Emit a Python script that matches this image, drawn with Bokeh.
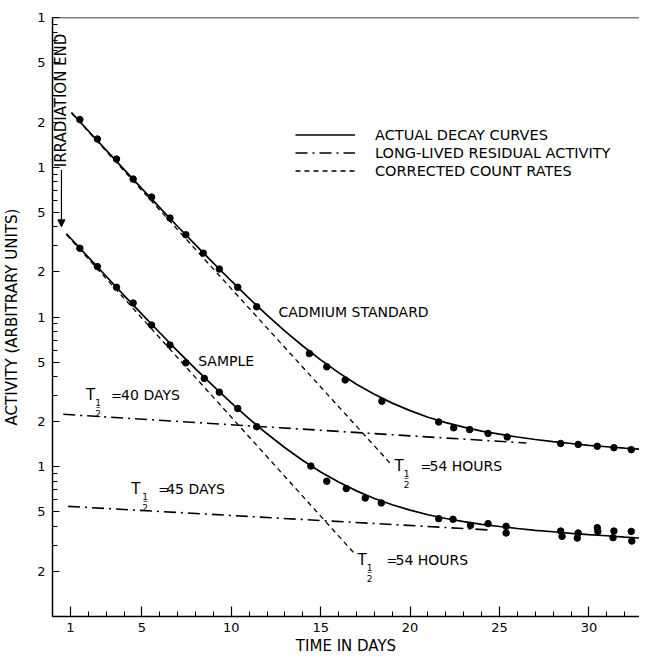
from bokeh.plotting import figure
from bokeh.models import (Range1d, FixedTicker, Label, Legend, LegendItem, Span,
                          Arrow, NormalHead)
from bokeh.embed import file_html
from bokeh.resources import INLINE

FONT = "DejaVu Sans"

# ---------------- data ----------------
# Cadmium standard: measured points
std_days = [1.53, 2.51, 3.58, 4.51, 5.54, 6.57, 7.46, 8.43, 9.33, 10.36, 11.42,
            14.37, 15.34, 16.37, 18.42, 21.6, 22.44, 23.33, 24.36, 25.43,
            28.42, 29.4, 30.47, 31.4, 32.37]
std_vals = [2080, 1544, 1135, 834, 632, 458, 354, 267, 209, 158, 117,
            57, 46.5, 38, 27.4, 19.9, 18.2, 17.7, 16.7, 15.8,
            14.3, 14.1, 13.7, 13.4, 13.0]

# Sample: measured points
smp_days = [1.53, 2.51, 3.58, 4.51, 5.54, 6.57, 7.46, 8.49, 9.33, 10.36, 11.42,
            14.45, 15.34, 16.43, 17.49, 18.39, 21.6, 22.4, 23.38, 24.36,
            25.37, 25.37, 28.42, 28.5, 29.4, 29.35, 30.47, 30.5, 31.4, 31.35,
            32.37, 32.4]
smp_vals = [288, 217, 158, 124, 88.4, 65, 49.4, 38.9, 31.5, 24.5, 18.5,
            10.1, 8.0, 7.15, 6.18, 5.73, 4.5, 4.46, 4.06, 4.17,
            4.0, 3.61, 3.72, 3.43, 3.61, 3.34, 3.92, 3.7, 3.72, 3.36,
            3.70, 3.19]

# Actual decay curves (solid)
std_curve_days = [1.06, 2, 3, 4, 5, 6, 7, 8, 9, 10, 11, 12, 13, 14, 15, 16, 17,
                  18, 19, 20, 21, 22, 23, 24, 25, 26, 27, 28, 29, 30, 31, 32, 33.2]
std_curve_vals = [2322, 1753, 1302, 967, 720, 538, 402, 303, 229, 174, 133, 103,
                  80.6, 64.0, 51.7, 42.5, 35.6, 30.5, 26.6, 23.7, 21.4, 19.7,
                  18.4, 17.3, 16.5, 15.8, 15.2, 14.7, 14.3, 13.9, 13.6, 13.3, 13.0]
smp_curve_days = [0.78, 1, 2, 3, 4, 5, 6, 7, 8, 9, 10, 11, 12, 13, 14, 15, 16, 17,
                  18, 19, 20, 21, 22, 23, 24, 25, 26, 27, 28, 29, 30, 31, 32, 33.2]
smp_curve_vals = [360, 337, 251, 187, 139.5, 104.5, 78.5, 59.2, 45.1, 34.5, 26.7,
                  20.9, 16.6, 13.4, 11.0, 9.23, 7.90, 6.90, 6.14, 5.57, 5.13,
                  4.78, 4.51, 4.30, 4.12, 3.99, 3.87, 3.76, 3.68, 3.59, 3.52,
                  3.46, 3.39, 3.32]

# Long-lived residual activity (dash-dot)
std_resid_days = [0.6, 26.5]
std_resid_vals = [22.4, 14.4]
smp_resid_days = [0.87, 24.5]
smp_resid_vals = [5.44, 3.78]

# Corrected count rates (dashed)
std_corr_days = [1.06, 18.9]
std_corr_vals = [2300, 10.5]
smp_corr_days = [0.78, 16.93]
smp_corr_vals = [355, 2.6]

# Axis ticks
x_major = [1, 5, 10, 15, 20, 25, 30]
x_minor = list(range(0, 34))
y_major = [2, 5, 10, 20, 50, 100, 200, 500, 1000, 2000, 5000, 10000]
y_labels = ["2", "5", "1", "2", "5", "1", "2", "5", "1", "2", "5", "1"]
y_minor = [m * d for d in (1, 10, 100, 1000) for m in (3, 4, 6, 7, 8, 9)]

legend_labels = ["ACTUAL DECAY CURVES", "LONG-LIVED RESIDUAL ACTIVITY",
                 "CORRECTED COUNT RATES"]

# ---------------- figure ----------------
p = figure(width=639, height=657, output_backend="svg", toolbar_location=None,
           x_range=Range1d(0, 32.83), y_range=Range1d(1, 10000),
           y_axis_type="log", min_border_left=48, min_border_right=0,
           min_border_top=17, min_border_bottom=30)
p.outline_line_color = None
p.grid.visible = False
p.background_fill_color = "white"

xa = p.xaxis[0]
xa.ticker = FixedTicker(ticks=x_major, minor_ticks=x_minor)
xa.axis_label = "TIME IN DAYS"
ya = p.yaxis[0]
ya.ticker = FixedTicker(ticks=y_major, minor_ticks=y_minor)
ya.major_label_overrides = {v: s for v, s in zip(y_major, y_labels)}
ya.axis_label = "ACTIVITY (ARBITRARY UNITS)"

for ax in (xa, ya):
    ax.axis_line_width = 1.5
    ax.axis_line_color = "black"
    ax.major_tick_out = 0
    ax.minor_tick_out = 0
    ax.major_tick_line_color = "black"
    ax.minor_tick_line_color = "black"
    ax.major_tick_line_width = 1.2
    ax.minor_tick_line_width = 1.0
    ax.major_label_text_font = FONT
    ax.major_label_text_font_size = "13px"
    ax.major_label_text_color = "black"
    ax.axis_label_text_font = FONT
    ax.axis_label_text_font_size = "15px"
    ax.axis_label_text_font_style = "normal"
    ax.axis_label_text_color = "black"

xa.major_tick_in = 10
xa.minor_tick_in = 5
xa.major_label_standoff = 6
xa.axis_label_standoff = 2
ya.major_tick_in = 7
ya.minor_tick_in = 5
ya.major_label_standoff = 7
ya.axis_label_standoff = 13

p.add_layout(Span(location=10000, dimension="width", line_color="black",
                  line_width=1.5))

# curves
r_std = p.line(std_curve_days, std_curve_vals, line_color="black", line_width=1.7)
p.line(smp_curve_days, smp_curve_vals, line_color="black", line_width=1.7)
r_res = p.line(std_resid_days, std_resid_vals, line_color="black", line_width=1.6,
               line_dash="12 5 2 5")
p.line(smp_resid_days, smp_resid_vals, line_color="black", line_width=1.6,
       line_dash="12 5 2 5")
r_cor = p.line(std_corr_days, std_corr_vals, line_color="black", line_width=1.3,
               line_dash="5 4")
p.line(smp_corr_days, smp_corr_vals, line_color="black", line_width=1.3,
       line_dash="5 4")

p.scatter(std_days, std_vals, size=6.5, color="black")
p.scatter(smp_days, smp_vals, size=6.5, color="black")

legend = Legend(items=[LegendItem(label=legend_labels[0], renderers=[r_std]),
                       LegendItem(label=legend_labels[1], renderers=[r_res]),
                       LegendItem(label=legend_labels[2], renderers=[r_cor])],
                location=(243, 437), glyph_width=60, glyph_height=17,
                label_height=17, spacing=1, padding=0, margin=0,
                label_standoff=20, border_line_color=None,
                background_fill_alpha=0, label_text_font=FONT,
                label_text_font_size="14.5px", label_text_color="black")
p.add_layout(legend)


def txt(x, y, s, size="14px", dx=0, dy=0, align="left", angle=0):
    p.add_layout(Label(x=x, y=y, text=s, x_offset=dx, y_offset=dy,
                       text_font=FONT, text_font_size=size, text_color="black",
                       text_align=align, text_baseline="middle", angle=angle))


def half_life(x, y, frac_dx, eq_dx, val_dx, rest):
    txt(x, y, "T", size="15px")
    txt(x, y, "1", size="9px", dx=frac_dx, dy=-7, align="center")
    txt(x, y, "\u2013", size="9px", dx=frac_dx, dy=-12, align="center")
    txt(x, y, "2", size="9px", dx=frac_dx, dy=-18, align="center")
    txt(x, y, "=", size="13px", dx=eq_dx)
    txt(x, y, rest, size="14px", dx=val_dx)


txt(12.64, 108, "CADMIUM STANDARD")
txt(8.15, 50.8, "SAMPLE")
half_life(1.88, 30.1, 12, 25, 35, "40 DAYS")
half_life(4.40, 7.07, 14, 27, 35, "45 DAYS")
half_life(19.13, 10.08, 12, 26, 35, "54 HOURS")
half_life(17.06, 2.37, 12, 29, 38, "54 HOURS")

txt(0.5, 1000, "IRRADIATION END", size="15px", angle=1.5708)
p.add_layout(Arrow(x_start=0.5, y_start=960, x_end=0.5, y_end=400,
                   line_color="black", line_width=1.2,
                   end=NormalHead(size=7, fill_color="black", line_color="black")))

open("out.html", "w").write(file_html(p, INLINE))
